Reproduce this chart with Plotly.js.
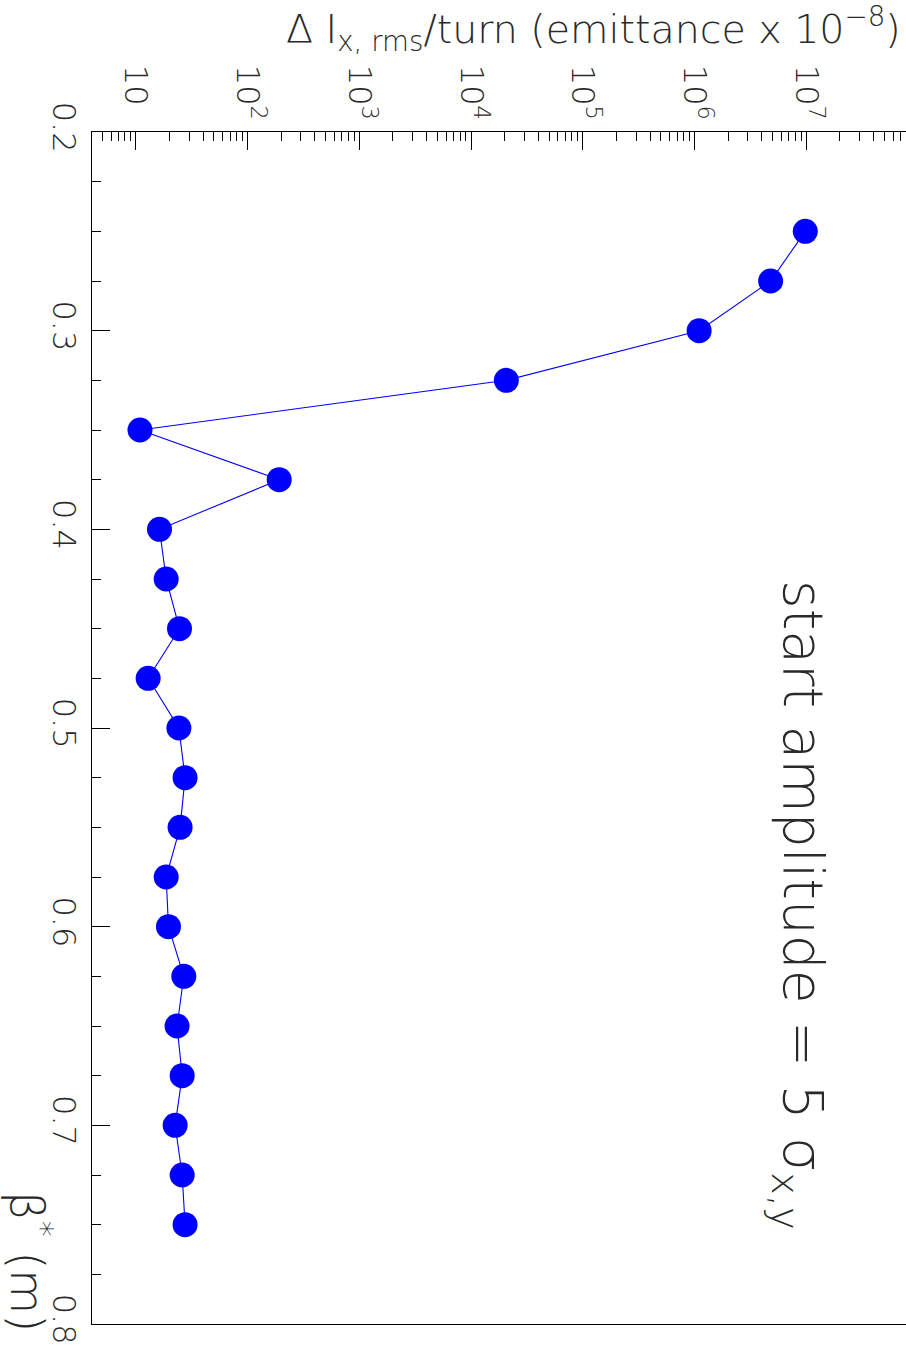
<!DOCTYPE html>
<html>
<head>
<meta charset="utf-8">
<script src="https://cdn.plot.ly/plotly-3.0.1.min.js"></script>
<style>
html,body{margin:0;padding:0;overflow:hidden;background:#fff;}
#plot{width:930px;height:1353px;}
</style>
</head>
<body>
<div id="plot"></div>
<script>
// beta* (m)
const betaStar = [0.25,0.275,0.3,0.325,0.35,0.375,0.4,0.425,0.45,0.475,0.5,0.525,0.55,0.575,0.6,0.625,0.65,0.675,0.7,0.725,0.75];
// Delta I_x,rms / turn (emittance x 1e-8)
const deltaI = [9.8e6,4.8e6,1.1e6,2.07e4,10.9,192,16.3,18.7,24.6,12.9,24.3,27.6,24.9,18.7,19.6,26.9,23.4,26.0,22.5,26.0,27.6];

const majorVals = [10,100,1e3,1e4,1e5,1e6,1e7];
const majorText = ['10<sup>\u2007</sup>','10<sup>2</sup>','10<sup>3</sup>','10<sup>4</sup>','10<sup>5</sup>','10<sup>6</sup>','10<sup>7</sup>'];

const minorVals = [];
for (let e = 0; e <= 7; e++) {
  for (let m = 2; m <= 9; m++) minorVals.push(m * Math.pow(10, e));
}

const FONT = '"DejaVu Sans", sans-serif';
const TXT = '#2a2a2a';
const W = 200;

const trace = {
  type: 'scatter',
  mode: 'lines+markers',
  x: deltaI,
  y: betaStar,
  line: {color: '#0000ff', width: 1.1},
  marker: {color: '#0000ff', size: 25},
  showlegend: false
};

const layout = {
  width: 930,
  height: 1353,
  margin: {l: 92, r: 12, t: 132, b: 29},
  paper_bgcolor: '#fff',
  plot_bgcolor: '#fff',
  font: {family: FONT, color: TXT, weight: W},
  xaxis: {
    type: 'log',
    side: 'top',
    range: [0.608, 8],
    tickmode: 'array',
    tickvals: majorVals,
    ticktext: majorText,
    tickangle: 90,
    ticks: 'inside',
    ticklen: 18,
    tickwidth: 1,
    tickcolor: '#000',
    tickfont: {size: 32, family: FONT, color: TXT, weight: W},
    minor: {tickmode: 'array', tickvals: minorVals, ticks: 'inside', ticklen: 9, tickwidth: 1, tickcolor: '#000'},
    showline: true,
    linecolor: '#000',
    linewidth: 1,
    mirror: true,
    showgrid: false,
    zeroline: false
  },
  yaxis: {
    range: [0.8, 0.2],
    tickmode: 'linear',
    tick0: 0.2,
    dtick: 0.1,
    tickformat: '.1f',
    tickangle: 90,
    ticks: 'inside',
    ticklen: 18,
    tickwidth: 1,
    tickcolor: '#000',
    tickfont: {size: 32, family: FONT, color: TXT, weight: W},
    minor: {dtick: 0.025, tick0: 0.2, ticks: 'inside', ticklen: 9, tickwidth: 1, tickcolor: '#000'},
    showline: true,
    linecolor: '#000',
    linewidth: 1,
    mirror: true,
    showgrid: false,
    zeroline: false
  },
  annotations: [
    {
      text: 'Δ I<sub>x, rms</sub>/turn (emittance x 10<sup>−8</sup>)',
      xref: 'paper', yref: 'paper',
      x: 0.607, y: 1, yshift: 103,
      xanchor: 'center', yanchor: 'middle',
      showarrow: false,
      font: {size: 39.5, family: FONT, color: TXT, weight: W}
    },
    {
      text: 'β<sup>*</sup> (m)',
      xref: 'paper', yref: 'paper',
      x: -0.093, y: 0.052, xshift: -16, yshift: -72,
      textangle: 90,
      showarrow: false,
      font: {size: 46, family: FONT, color: TXT, weight: W}
    },
    {
      text: 'start amplitude = 5 σ<sub>x,y</sub>',
      xref: 'paper', yref: 'paper',
      x: 0.885, y: 0.3515, xshift: 14,
      textangle: 90,
      showarrow: false,
      font: {size: 55, family: FONT, color: TXT, weight: W}
    }
  ]
};

Plotly.newPlot('plot', [trace], layout, {displayModeBar: false, staticPlot: true});
</script>
</body>
</html>
